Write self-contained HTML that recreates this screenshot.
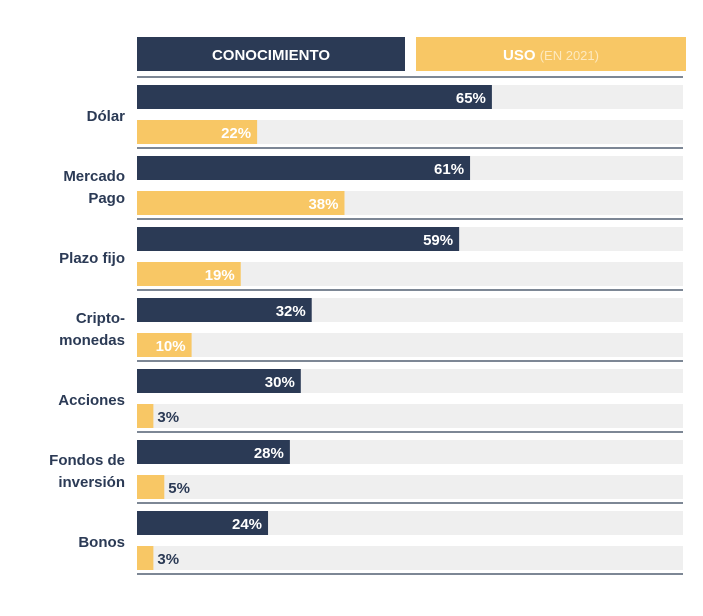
<!DOCTYPE html>
<html><head><meta charset="utf-8"><style>
body{margin:0;width:703px;height:616px;background:#fff;font-family:"Liberation Sans",sans-serif;overflow:hidden}
svg{display:block}
</style></head><body>
<svg width="703" height="616">
<rect x="137" y="37" width="268" height="34" fill="#2b3a55"/>
<text x="271" y="60" text-anchor="middle" fill="#fff" font-size="15" font-weight="bold">CONOCIMIENTO</text>
<rect x="416" y="37" width="270" height="34" fill="#f8c765"/>
<text x="551" y="60" text-anchor="middle" fill="#fff" font-size="15"><tspan font-weight="bold">USO</tspan> <tspan font-size="13" fill="#fde9bf">(EN 2021)</tspan></text>
<g id="rows"></g>
</svg>
<script>
const categories=[["Dólar"],["Mercado","Pago"],["Plazo fijo"],["Cripto-","monedas"],["Acciones"],["Fondos de","inversión"],["Bonos"]];
const conocimiento=[65,61,59,32,30,28,24];
const uso=[22,38,19,10,3,5,3];
const NS="http://www.w3.org/2000/svg";
const g=document.getElementById('rows');
const x0=137,trackW=546,top0=77,groupH=71;
const xs=v=>v/100*trackW;
function mk(t,a){const e=document.createElementNS(NS,t);for(const k in a)e.setAttribute(k,a[k]);g.appendChild(e);return e;}
let l=mk('rect',{x:x0,y:top0-1,width:trackW,height:2,fill:'#7d8795'});


categories.forEach((c,i)=>{
  const gy=top0+i*groupH;
  [[conocimiento[i],'#2b3a55',8,'conocimiento'],[uso[i],'#f8c765',43,'uso']].forEach(([v,col,dy,s])=>{
    const y=gy+dy;
    const t=mk('rect',{x:x0,y:y,width:trackW,height:24,fill:'#efefef'});
    
    
    const b=mk('rect',{x:x0,y:y,width:xs(v),height:24,fill:col});
    
    
    const inside=xs(v)>45;
    const tx=mk('text',{x:inside?x0+xs(v)-6:x0+xs(v)+4,y:y+18,'text-anchor':inside?'end':'start',fill:inside?'#fff':'#2b3a55','font-size':15,'font-weight':'bold'});
    tx.textContent=v+'%';
    
    
  });
  const cy=gy+38;
  const n=c.length;
  c.forEach((line,j)=>{
    const lt=mk('text',{x:125,y:cy+6+(j-(n-1)/2)*22,'text-anchor':'end',fill:'#2b3a55','font-size':15,'font-weight':'bold'});
    lt.textContent=line;
    
    
  });
  const sep=mk('rect',{x:x0,y:gy+groupH-1,width:trackW,height:2,fill:'#7d8795'});
  
  
});
</script>
</body></html>
